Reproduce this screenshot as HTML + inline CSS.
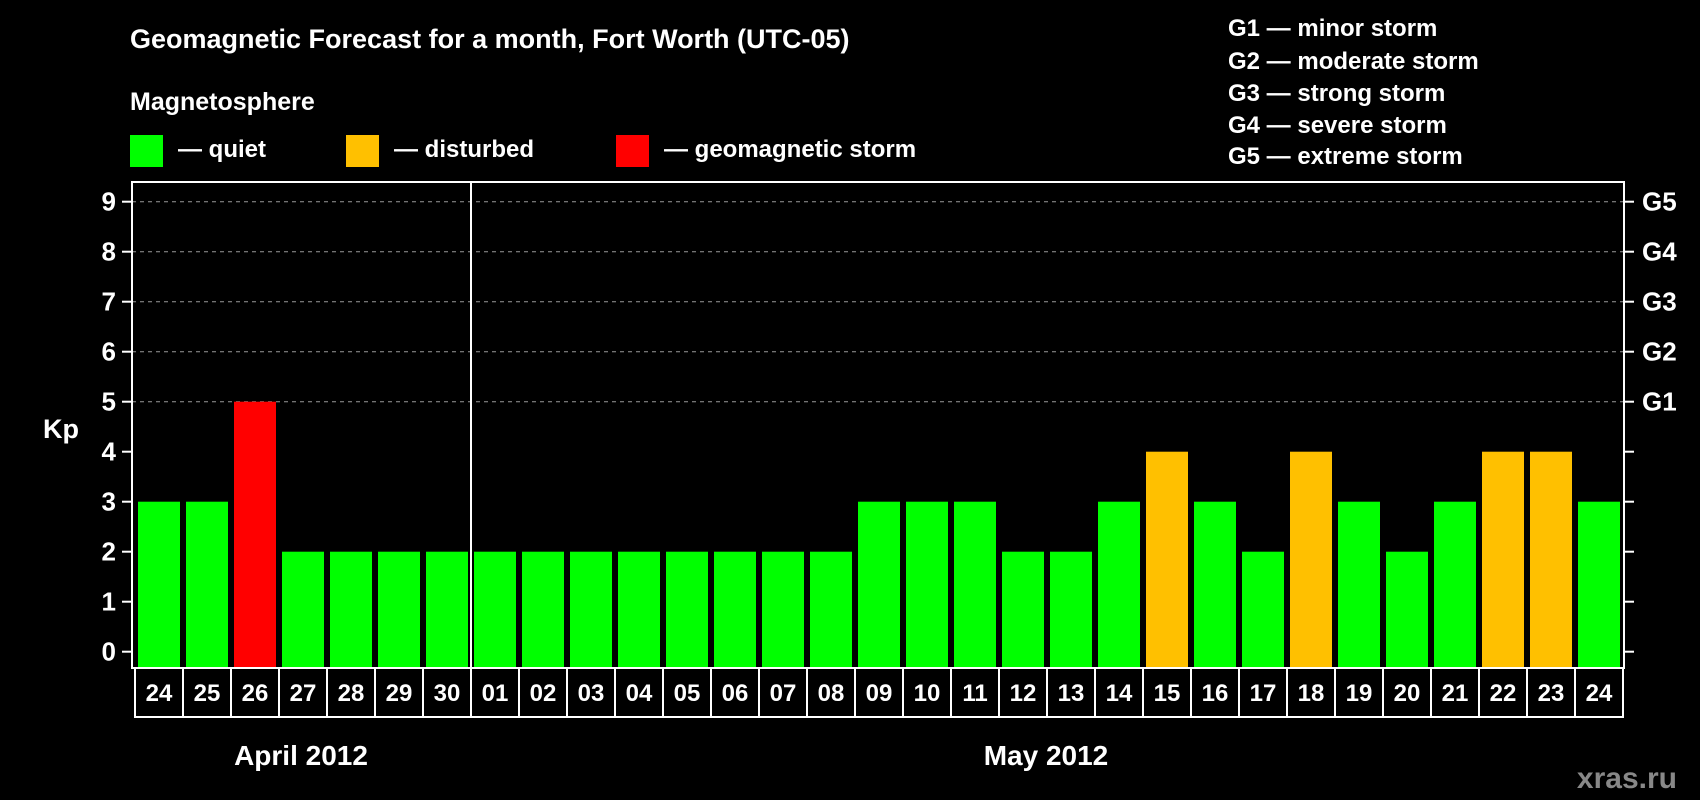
<!DOCTYPE html>
<html><head><meta charset="utf-8"><style>
body{margin:0;background:#000;width:1700px;height:800px;overflow:hidden}
svg{display:block;font-family:"Liberation Sans",Arial,sans-serif;font-weight:bold}
</style></head><body>
<svg id="c" width="1700" height="800">
<text x="130" y="48" fill="#fff" font-size="27">Geomagnetic Forecast for a month, Fort Worth (UTC-05)</text>
<text x="130" y="110" fill="#fff" font-size="25">Magnetosphere</text>
<g><rect x="130" y="135" width="33" height="32" fill="#00ff00"/><text x="178" y="157" fill="#fff" font-size="24">— quiet</text></g>
<g><rect x="346" y="135" width="33" height="32" fill="#ffc000"/><text x="394" y="157" fill="#fff" font-size="24">— disturbed</text></g>
<g><rect x="616" y="135" width="33" height="32" fill="#ff0000"/><text x="664" y="157" fill="#fff" font-size="24">— geomagnetic storm</text></g>
<g fill="#fff" font-size="24">
<text x="1228" y="36">G1 — minor storm</text>
<text x="1228" y="69">G2 — moderate storm</text>
<text x="1228" y="101">G3 — strong storm</text>
<text x="1228" y="133">G4 — severe storm</text>
<text x="1228" y="164">G5 — extreme storm</text>
</g>
<text x="43" y="438" fill="#fff" font-size="27">Kp</text>
<text x="1677" y="788" fill="#888" font-size="30" text-anchor="end">xras.ru</text>
<text x="301" y="765" fill="#fff" font-size="28" text-anchor="middle">April 2012</text>
<text x="1046" y="765" fill="#fff" font-size="28" text-anchor="middle">May 2012</text>
<g id="plot"></g>
</svg>
<script>
const days=["24","25","26","27","28","29","30","01","02","03","04","05","06","07","08","09","10","11","12","13","14","15","16","17","18","19","20","21","22","23","24"];
const kp=[3,3,5,2,2,2,2,2,2,2,2,2,2,2,2,3,3,3,2,2,3,4,3,2,4,3,2,3,4,4,3];
const yTicks=[0,1,2,3,4,5,6,7,8,9];
const gLabels=["G1","G2","G3","G4","G5"];
const gLevels=[5,6,7,8,9];
const monthSplit=7;
const NS="http://www.w3.org/2000/svg";
const g=document.getElementById('plot');
const L=132,R=1624,T=182,B=668,x0=135,slot=48;
const y=v=>651.7-50*v;
const x=i=>x0+i*slot;
function mk(t,a,txt){const e=document.createElementNS(NS,t);for(const k in a)e.setAttribute(k,a[k]);if(txt!==undefined)e.textContent=txt;g.appendChild(e);return e;}
gLevels.forEach((v,i)=>{
 const l=mk('line',{x1:L,x2:R,y1:y(v),y2:y(v),stroke:'#999','stroke-width':1,'stroke-dasharray':'4,4'});
 
 
 const t=mk('text',{x:1642,y:y(v)+9,fill:'#fff','font-size':26},gLabels[i]);
 
 
});
yTicks.forEach(v=>{
 mk('line',{x1:122,x2:L,y1:y(v),y2:y(v),stroke:'#fff','stroke-width':2});
 mk('line',{x1:R,x2:1634,y1:y(v),y2:y(v),stroke:'#fff','stroke-width':2});
 const t=mk('text',{x:116,y:y(v)+9,fill:'#fff','font-size':26,'text-anchor':'end'},v);
 
 
});
kp.forEach((v,i)=>{
 const col=v>=5?'#ff0000':v>=4?'#ffc000':'#00ff00';
 const r=mk('rect',{x:x(i)+3,y:y(v),width:42,height:B-y(v),fill:col});
 
 
 const c=mk('rect',{x:x(i),y:B,width:slot,height:49,fill:'none',stroke:'#fff','stroke-width':2});
 
 
 const t=mk('text',{x:x(i)+slot/2,y:B+33,fill:'#fff','font-size':24,'text-anchor':'middle'},days[i]);
 
 
});
const f=mk('rect',{x:L,y:T,width:R-L,height:B-T,fill:'none',stroke:'#fff','stroke-width':2});


const d=mk('line',{x1:x(monthSplit),x2:x(monthSplit),y1:T,y2:B,stroke:'#fff','stroke-width':2});


</script>
</body></html>
